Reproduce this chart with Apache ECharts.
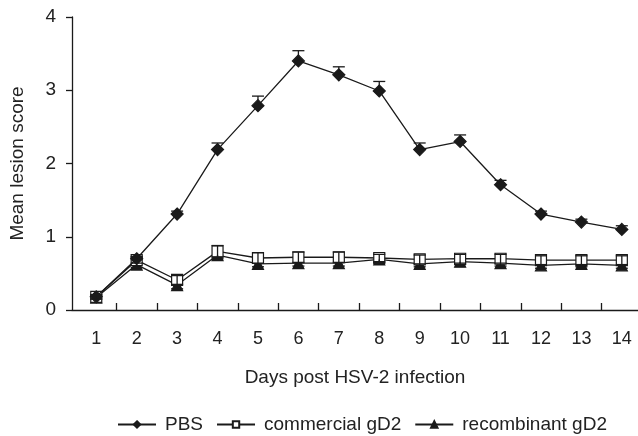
<!DOCTYPE html>
<html>
<head>
<meta charset="utf-8">
<script src="https://cdn.jsdelivr.net/npm/echarts@6/dist/echarts.min.js"></script>
<style>
  html, body { margin: 0; padding: 0; background: #fff; }
  #chart { width: 638px; height: 436px; }
</style>
</head>
<body>
<div id="chart"></div>
<script>
// days post infection
var days = [1, 2, 3, 4, 5, 6, 7, 8, 9, 10, 11, 12, 13, 14];
var yTicks = [0, 1, 2, 3, 4];

// mean lesion score per group
var pbs = [0.18, 0.70, 1.31, 2.19, 2.79, 3.40, 3.21, 2.99, 2.19, 2.30, 1.71, 1.31, 1.20, 1.10];
var commercial = [0.18, 0.68, 0.41, 0.80, 0.71, 0.72, 0.72, 0.71, 0.69, 0.70, 0.70, 0.68, 0.68, 0.68];
var recombinant = [0.17, 0.62, 0.34, 0.75, 0.63, 0.64, 0.64, 0.69, 0.63, 0.66, 0.64, 0.61, 0.63, 0.61];

// standard errors
var pbsErr = [0.02, 0.03, 0.04, 0.09, 0.13, 0.14, 0.11, 0.13, 0.09, 0.09, 0.06, 0.04, 0.04, 0.05];
var commercialErr = [0.03, 0.04, 0.06, 0.08, 0.07, 0.07, 0.07, 0.05, 0.06, 0.06, 0.06, 0.06, 0.06, 0.06];
var recombinantErr = [0.02, 0.04, 0.05, 0.05, 0.04, 0.04, 0.04, 0.04, 0.04, 0.04, 0.04, 0.04, 0.04, 0.04];

var ink = '#1a1a1a';
var font = 'Liberation Sans, Arial, sans-serif';

function pairs(vals) {
    return days.map(function (d, i) { return [d, vals[i]]; });
}
// [day, low, high, mean]
function errData(vals, errs, up, down) {
    return days.map(function (d, i) {
        return [d, vals[i] - (down ? errs[i] : 0), vals[i] + (up ? errs[i] : 0), vals[i]];
    });
}

function renderErr(params, api) {
    var x = api.value(0), lo = api.value(1), hi = api.value(2), m = api.value(3);
    var top = api.coord([x, hi]);
    var bot = api.coord([x, lo]);
    var w = 6;
    var style = { stroke: ink, lineWidth: 1.3 };
    var kids = [{ type: 'line', shape: { x1: top[0], y1: top[1], x2: bot[0], y2: bot[1] }, style: style }];
    if (hi > m) kids.push({ type: 'line', shape: { x1: top[0] - w, y1: top[1], x2: top[0] + w, y2: top[1] }, style: style });
    if (lo < m) kids.push({ type: 'line', shape: { x1: bot[0] - w, y1: bot[1], x2: bot[0] + w, y2: bot[1] }, style: style });
    return { type: 'group', children: kids };
}

function errSeries(data, z) {
    return {
        type: 'custom',
        renderItem: renderErr,
        data: data,
        z: z,
        silent: true,
        encode: { x: 0, y: [1, 2] }
    };
}

function lineSeries(name, vals, symbol, size, fill, z) {
    return {
        name: name,
        type: 'line',
        data: pairs(vals),
        symbol: symbol,
        symbolSize: size,
        showAllSymbol: true,
        z: z,
        lineStyle: { color: ink, width: 1.3 },
        itemStyle: { color: fill, borderColor: ink, borderWidth: 1.2 }
    };
}

var chart = echarts.init(document.getElementById('chart'));
chart.setOption({
    backgroundColor: '#fff',
    animation: false,
    textStyle: { fontFamily: font, color: '#222' },
    grid: { left: 72, right: 0, top: 17, bottom: 126 },
    xAxis: {
        type: 'value',
        min: 0.4,
        max: 14.4,
        name: 'Days post HSV-2 infection',
        nameLocation: 'middle',
        nameGap: 58,
        nameTextStyle: { fontSize: 19, color: '#222', verticalAlign: 'top' },
        splitLine: { show: false },
        axisLine: { lineStyle: { color: ink, width: 1.3 } },
        axisTick: {
            inside: true,
            length: 7,
            lineStyle: { color: ink, width: 1.3 },
            customValues: days.slice(0, -1).map(function (d) { return d + 0.5; })
        },
        axisLabel: {
            fontSize: 18,
            color: '#222',
            margin: 20,
            customValues: days
        }
    },
    yAxis: {
        type: 'value',
        min: yTicks[0],
        max: yTicks[yTicks.length - 1],
        interval: 1,
        name: 'Mean lesion score',
        nameLocation: 'middle',
        nameGap: 45,
        nameRotate: 90,
        nameTextStyle: { fontSize: 19, color: '#222' },
        splitLine: { show: false },
        axisLine: { show: true, lineStyle: { color: ink, width: 1.3 } },
        axisTick: { show: true, length: 6, lineStyle: { color: ink, width: 1.3 } },
        axisLabel: { fontSize: 19, color: '#222', margin: 16 }
    },
    legend: {
        data: ['PBS', 'commercial gD2', 'recombinant gD2'],
        left: 112,
        top: 410,
        itemWidth: 38,
        itemHeight: 8,
        itemGap: 13,
        textStyle: { fontSize: 19, color: '#222', padding: [0, 0, 0, 4] }
    },
    series: [
        lineSeries('PBS', pbs, 'diamond', 12, ink, 5),
        lineSeries('commercial gD2', commercial, 'rect', 11, '#fff', 4),
        lineSeries('recombinant gD2', recombinant, 'triangle', 11, ink, 3),
        errSeries(errData(pbs, pbsErr, true, false), 6),
        errSeries(errData(commercial, commercialErr, true, true), 6),
        errSeries(errData(recombinant, recombinantErr, false, true), 6)
    ]
});
window.addEventListener('resize', function () {
    chart.resize();
});
</script>
</body>
</html>
